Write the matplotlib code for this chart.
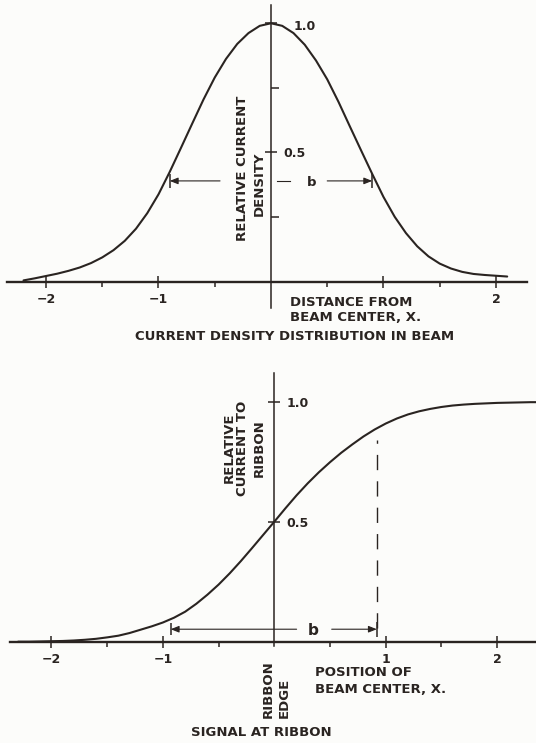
import matplotlib.pyplot as plt

ink = '#2a2421'
paper = '#fcfcfa'

# relative current density across the beam, sampled every 0.1 in x
density_x = [-2.2, -2.1, -2.0, -1.9, -1.8, -1.7, -1.6, -1.5, -1.4, -1.3, -1.2,
             -1.1, -1.0, -0.9, -0.8, -0.7, -0.6, -0.5, -0.4, -0.3, -0.2, -0.1,
             0.0, 0.1, 0.2, 0.3, 0.4, 0.5, 0.6, 0.7, 0.8, 0.9, 1.0,
             1.1, 1.2, 1.3, 1.4, 1.5, 1.6, 1.7, 1.8, 1.9, 2.0, 2.1]
density_y = [0.005, 0.013, 0.022, 0.031, 0.042, 0.055, 0.072, 0.094, 0.122, 0.158, 0.205,
             0.265, 0.338, 0.425, 0.518, 0.612, 0.705, 0.790, 0.862, 0.920, 0.962, 0.990,
             1.000, 0.990, 0.962, 0.917, 0.856, 0.783, 0.696, 0.602, 0.509, 0.417, 0.328,
             0.251, 0.188, 0.137, 0.098, 0.070, 0.051, 0.038, 0.030, 0.026, 0.023, 0.020]

# relative current to the ribbon vs position of the beam center
signal_x = [-2.3, -2.2, -2.1, -2.0, -1.9, -1.8, -1.7, -1.6, -1.5, -1.4, -1.3, -1.2,
            -1.1, -1.0, -0.9, -0.8, -0.7, -0.6, -0.5, -0.4, -0.3, -0.2, -0.1,
            0.0, 0.1, 0.2, 0.3, 0.4, 0.5, 0.6, 0.7, 0.8, 0.9, 1.0, 1.1, 1.2,
            1.3, 1.4, 1.5, 1.6, 1.7, 1.8, 1.9, 2.0, 2.1, 2.2, 2.3, 2.4]
signal_y = [0.000, 0.000, 0.001, 0.002, 0.003, 0.005, 0.008, 0.012, 0.018, 0.025, 0.036, 0.050,
            0.064, 0.080, 0.100, 0.125, 0.158, 0.196, 0.238, 0.285, 0.336, 0.390, 0.445,
            0.500, 0.556, 0.610, 0.660, 0.706, 0.748, 0.787, 0.822, 0.855, 0.884, 0.909, 0.930, 0.947,
            0.960, 0.970, 0.978, 0.984, 0.988, 0.991, 0.993, 0.995, 0.996, 0.997, 0.998, 0.998]

# width b marked on each plot: (left end, right end, height)
b_density = (-0.9, 0.9, 0.39)
b_signal = (-0.93, 0.92, 0.052)
dash_top = 0.84

top_xlabels = ['\u22122', '\u22121', '', '2']
bottom_xlabels = ['\u22122', '\u22121', '1', '2']

plt.rcParams['font.family'] = 'DejaVu Sans'
plt.rcParams['font.weight'] = 'bold'
plt.rcParams['text.color'] = ink

fig = plt.figure(figsize=(5.36, 7.43), dpi=100, facecolor=paper)
ax1 = fig.add_axes([0, 1 - 350 / 743, 1, 350 / 743])
ax2 = fig.add_axes([0, 0, 1, 393 / 743])


def setup_axes(ax, xlim, ylim, xbounds, ybounds, xlabels, ylabels, yminor):
    ax.set_xlim(*xlim)
    ax.set_ylim(*ylim)
    ax.patch.set_visible(False)
    ax.spines['top'].set_visible(False)
    ax.spines['left'].set_visible(False)
    ax.spines['bottom'].set_position(('data', 0))
    ax.spines['bottom'].set_bounds(*xbounds)
    ax.spines['bottom'].set_linewidth(1.7)
    ax.spines['right'].set_position(('data', 0))
    ax.spines['right'].set_bounds(*ybounds)
    ax.spines['right'].set_linewidth(1.1)
    for sp in ax.spines.values():
        sp.set_color(ink)
    ax.xaxis.set_ticks_position('bottom')
    ax.yaxis.set_ticks_position('right')
    ax.set_xticks([-2, -1, 1, 2], xlabels)
    ax.set_xticks([-1.5, -0.5, 0.5, 1.5], minor=True)
    ax.set_yticks([0.5, 1.0], ylabels)
    ax.set_yticks(yminor, minor=True)
    ax.tick_params(which='both', color=ink, labelcolor=ink, width=1.1)
    ax.tick_params(axis='x', which='major', direction='inout', length=8, pad=4, labelsize=9)
    ax.tick_params(axis='x', which='minor', direction='out', length=3.5)
    ax.tick_params(axis='y', which='major', direction='inout', length=9, pad=4.5, labelsize=9)
    ax.tick_params(axis='y', which='minor', direction='out', length=6)


def dim_arrow(ax, x_from, x_to, y):
    ax.annotate('', xy=(x_to, y), xytext=(x_from, y),
                arrowprops=dict(arrowstyle='-|>,head_length=0.55,head_width=0.22',
                                color=ink, lw=0.8, shrinkA=0, shrinkB=0, mutation_scale=9))


# --- current density distribution in beam ---
setup_axes(ax1, (-2.409, 2.356), (-0.2643, 1.090), (-2.35, 2.28), (-0.10, 1.07),
           top_xlabels, ['0.5', ''], [0.25, 0.75])
ax1.plot(density_x, density_y, color=ink, lw=1.5, solid_capstyle='round')
ax1.text(0.205, 0.975, '1.0', ha='left', va='baseline', fontsize=9)

left, right, level = b_density
dim_arrow(ax1, -0.453, left, level)
ax1.plot([0.05, 0.17], [level, level], color=ink, lw=0.8)
dim_arrow(ax1, 0.5, right, level)
ax1.vlines([left, right], level - 0.028, level + 0.028, color=ink, lw=1.1)
ax1.text(0.362, level - 0.019, 'b', ha='center', va='baseline', fontsize=9.5)

ax1.text(-0.255, 0.438, 'RELATIVE CURRENT', rotation=90, ha='center', va='center', fontsize=9.5)
ax1.text(-0.108, 0.378, 'DENSITY', rotation=90, ha='center', va='center', fontsize=9.5)
ax1.text(0.172, -0.0925, 'DISTANCE FROM', ha='left', va='baseline', fontsize=9.5)
ax1.text(0.172, -0.154, 'BEAM CENTER, X.', ha='left', va='baseline', fontsize=9.5)
ax1.text(0.209, -0.2249, 'CURRENT DENSITY DISTRIBUTION IN BEAM', ha='center',
         va='baseline', fontsize=9.5)

# --- signal at ribbon ---
setup_axes(ax2, (-2.462, 2.3486), (-0.4221, 1.2154), (-2.37, 2.36), (-0.02, 1.118),
           bottom_xlabels, ['0.5', '1.0'], [])
ax2.plot(signal_x, signal_y, color=ink, lw=1.5, solid_capstyle='round')

left, right, level = b_signal
dim_arrow(ax2, 0.2, left, level)
dim_arrow(ax2, 0.515, right, level)
ax2.vlines([left], level - 0.024, level + 0.024, color=ink, lw=1.1)
ax2.vlines([right], level - 0.031, level + 0.031, color=ink, lw=1.1)
ax2.vlines([right], level + 0.005, dash_top, color=ink, lw=1.0,
           linestyles=[(0, (11, 8))])
ax2.text(0.347, 0.028, 'b', ha='center', va='baseline', fontsize=11)

ax2.text(-0.4075, 0.807, 'RELATIVE', rotation=90, ha='center', va='center', fontsize=9.5)
ax2.text(-0.2873, 0.807, 'CURRENT TO', rotation=90, ha='center', va='center', fontsize=9.5)
ax2.text(-0.1382, 0.807, 'RIBBON', rotation=90, ha='center', va='center', fontsize=9.5)
ax2.text(-0.0512, -0.319, 'RIBBON', rotation=90, ha='center', va='bottom', fontsize=9.5)
ax2.text(0.088, -0.319, 'EDGE', rotation=90, ha='center', va='bottom', fontsize=9.5)
ax2.text(0.365, -0.144, 'POSITION OF', ha='left', va='baseline', fontsize=9.5)
ax2.text(0.365, -0.214, 'BEAM CENTER, X.', ha='left', va='baseline', fontsize=9.5)
ax2.text(-0.119, -0.395, 'SIGNAL AT RIBBON', ha='center', va='baseline', fontsize=9.5)

fig.savefig('out.png', dpi=100, facecolor=paper)
